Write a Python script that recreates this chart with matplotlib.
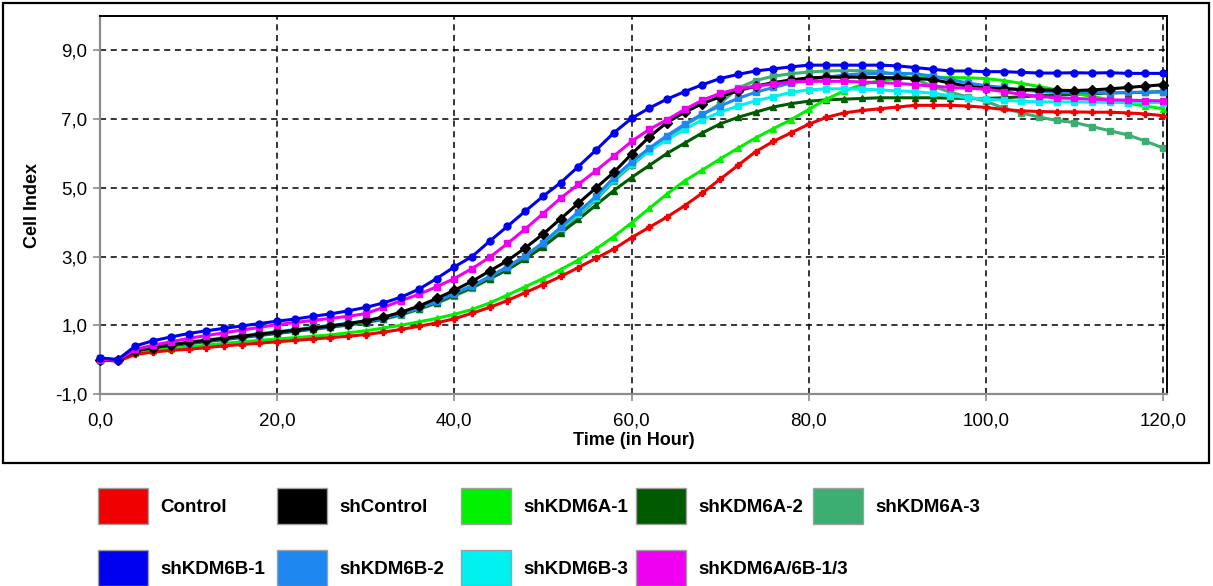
import matplotlib
matplotlib.use("Agg")
import matplotlib.pyplot as plt
from matplotlib.patches import Rectangle
from matplotlib.ticker import FuncFormatter

plt.rcParams['font.family'] = ['Liberation Sans', 'DejaVu Sans']

# ---------------- data ----------------
hours = list(range(0, 121, 2))

control = [0.00, -0.05, 0.15, 0.22, 0.27, 0.30, 0.35, 0.40, 0.44, 0.48, 0.52, 0.56, 0.60, 0.64, 0.68, 0.73,
           0.80, 0.88, 0.97, 1.07, 1.19, 1.35, 1.52, 1.72, 1.95, 2.18, 2.42, 2.68, 2.95, 3.22, 3.55, 3.85,
           4.15, 4.48, 4.85, 5.25, 5.65, 6.05, 6.35, 6.60, 6.85, 7.05, 7.18, 7.25, 7.30, 7.35, 7.40, 7.40,
           7.40, 7.38, 7.34, 7.28, 7.24, 7.22, 7.21, 7.21, 7.20, 7.20, 7.18, 7.15, 7.10]
sh_control = [0.00, -0.02, 0.25, 0.35, 0.43, 0.50, 0.56, 0.62, 0.68, 0.74, 0.80, 0.86, 0.92, 0.98, 1.05, 1.13,
              1.24, 1.38, 1.56, 1.78, 2.02, 2.28, 2.58, 2.88, 3.25, 3.65, 4.10, 4.55, 5.00, 5.45, 5.98, 6.48,
              6.90, 7.20, 7.45, 7.65, 7.82, 7.96, 8.06, 8.14, 8.20, 8.22, 8.22, 8.22, 8.21, 8.20, 8.18, 8.15,
              8.05, 7.95, 7.90, 7.88, 7.86, 7.85, 7.84, 7.83, 7.85, 7.88, 7.92, 7.96, 8.00]
kdm6a_1 = [0.00, 0.00, 0.18, 0.26, 0.32, 0.37, 0.42, 0.47, 0.52, 0.56, 0.60, 0.64, 0.68, 0.72, 0.78, 0.84,
           0.92, 1.00, 1.10, 1.20, 1.32, 1.46, 1.65, 1.88, 2.12, 2.36, 2.62, 2.90, 3.22, 3.58, 3.98, 4.40,
           4.82, 5.20, 5.52, 5.84, 6.15, 6.45, 6.72, 6.98, 7.28, 7.58, 7.82, 8.00, 8.12, 8.18, 8.20, 8.22,
           8.21, 8.20, 8.18, 8.12, 8.04, 7.95, 7.85, 7.75, 7.66, 7.56, 7.46, 7.38, 7.30]
kdm6a_2 = [0.00, -0.02, 0.24, 0.33, 0.41, 0.47, 0.53, 0.59, 0.65, 0.71, 0.77, 0.83, 0.89, 0.95, 1.02, 1.09,
           1.19, 1.32, 1.48, 1.66, 1.88, 2.10, 2.36, 2.62, 2.93, 3.28, 3.68, 4.08, 4.50, 4.92, 5.30, 5.65,
           6.00, 6.30, 6.60, 6.86, 7.05, 7.20, 7.35, 7.45, 7.52, 7.56, 7.58, 7.60, 7.62, 7.62, 7.62, 7.62,
           7.61, 7.60, 7.60, 7.62, 7.65, 7.68, 7.70, 7.72, 7.74, 7.76, 7.77, 7.78, 7.80]
kdm6a_3 = [0.00, -0.02, 0.22, 0.32, 0.40, 0.46, 0.52, 0.58, 0.64, 0.70, 0.76, 0.82, 0.88, 0.94, 1.00, 1.07,
           1.17, 1.30, 1.46, 1.64, 1.85, 2.08, 2.35, 2.62, 2.95, 3.32, 3.75, 4.20, 4.65, 5.20, 5.65, 6.08,
           6.45, 6.82, 7.12, 7.45, 7.90, 8.12, 8.25, 8.32, 8.37, 8.40, 8.41, 8.41, 8.38, 8.30, 8.16, 7.96,
           7.78, 7.64, 7.52, 7.32, 7.18, 7.06, 6.96, 6.90, 6.78, 6.66, 6.54, 6.36, 6.16]
kdm6b_1 = [0.05, 0.00, 0.40, 0.55, 0.66, 0.76, 0.84, 0.91, 0.98, 1.05, 1.12, 1.18, 1.26, 1.33, 1.42, 1.52,
           1.65, 1.82, 2.05, 2.36, 2.70, 3.00, 3.45, 3.88, 4.32, 4.75, 5.15, 5.62, 6.10, 6.60, 7.02, 7.32,
           7.58, 7.80, 8.00, 8.18, 8.30, 8.40, 8.46, 8.52, 8.57, 8.57, 8.57, 8.57, 8.57, 8.55, 8.50, 8.45,
           8.40, 8.40, 8.38, 8.38, 8.36, 8.34, 8.34, 8.35, 8.34, 8.35, 8.33, 8.33, 8.33]
kdm6b_2 = [0.05, 0.00, 0.27, 0.36, 0.43, 0.49, 0.55, 0.61, 0.67, 0.73, 0.79, 0.85, 0.91, 0.97, 1.04, 1.11,
           1.21, 1.34, 1.50, 1.70, 1.92, 2.15, 2.42, 2.70, 3.02, 3.40, 3.85, 4.30, 4.75, 5.30, 5.75, 6.15,
           6.52, 6.85, 7.15, 7.38, 7.60, 7.78, 7.92, 8.05, 8.15, 8.22, 8.28, 8.32, 8.33, 8.33, 8.32, 8.25,
           8.15, 8.05, 7.97, 7.92, 7.85, 7.80, 7.78, 7.77, 7.77, 7.77, 7.78, 7.78, 7.79]
kdm6b_3 = [0.00, -0.02, 0.28, 0.38, 0.45, 0.52, 0.58, 0.64, 0.70, 0.76, 0.82, 0.88, 0.94, 1.00, 1.06, 1.13,
           1.22, 1.35, 1.50, 1.70, 1.93, 2.15, 2.42, 2.70, 3.02, 3.40, 3.82, 4.25, 4.70, 5.25, 5.70, 6.08,
           6.40, 6.70, 6.98, 7.20, 7.38, 7.53, 7.65, 7.78, 7.85, 7.88, 7.88, 7.87, 7.85, 7.82, 7.80, 7.75,
           7.68, 7.62, 7.58, 7.55, 7.52, 7.50, 7.50, 7.50, 7.49, 7.49, 7.48, 7.48, 7.48]
kdm6ab = [0.00, -0.02, 0.30, 0.42, 0.52, 0.62, 0.70, 0.78, 0.86, 0.94, 1.02, 1.08, 1.14, 1.20, 1.26, 1.34,
          1.52, 1.72, 1.90, 2.12, 2.36, 2.65, 2.98, 3.38, 3.80, 4.25, 4.70, 5.10, 5.50, 5.92, 6.35, 6.70,
          6.98, 7.28, 7.55, 7.75, 7.88, 7.96, 8.02, 8.08, 8.10, 8.10, 8.10, 8.08, 8.06, 8.04, 8.00, 7.96,
          7.92, 7.90, 7.87, 7.80, 7.72, 7.66, 7.62, 7.60, 7.58, 7.56, 7.55, 7.54, 7.53]

labels = ["Control", "shControl", "shKDM6A-1", "shKDM6A-2", "shKDM6A-3",
          "shKDM6B-1", "shKDM6B-2", "shKDM6B-3", "shKDM6A/6B-1/3"]
series = [control, sh_control, kdm6a_1, kdm6a_2, kdm6a_3, kdm6b_1, kdm6b_2, kdm6b_3, kdm6ab]
colors = ["#F00000", "#000000", "#00F000", "#005A00", "#3CAE71",
          "#0000F0", "#1E88F0", "#00F0F0", "#F000F0"]
markers = ["P", "D", "^", "^", "s", "o", "s", "s", "s"]
zorders = [6, 7, 4, 3, 2, 9, 5, 4, 8]

xticks = [0, 20, 40, 60, 80, 100, 120]
yticks = [-1, 1, 3, 5, 7, 9]

# ---------------- figure ----------------
W, H = 1213, 586
fig = plt.figure(figsize=(W / 100, H / 100), dpi=100)
ax = fig.add_axes([100 / W, 1 - 394 / H, (1167 - 100) / W, (394 - 16) / H])

for ys, c, m, z, lab in zip(series, colors, markers, zorders, labels):
    ax.plot(hours, ys, color=c, lw=2.2, marker=m, ms=5, mec=c, mfc=c, zorder=z, label=lab,
            clip_on=False)

ax.set_xlim(0, 120.45)
ax.set_ylim(-1, 10)
ax.set_xticks(xticks)
ax.set_yticks(yticks)
fmt = FuncFormatter(lambda v, p: f"{v:.1f}".replace(".", ","))
ax.xaxis.set_major_formatter(fmt)
ax.yaxis.set_major_formatter(fmt)

for v in xticks[1:]:
    ax.axvline(v, color="black", lw=1.1, ls=(0, (4, 3)), zorder=1)
for v in yticks[1:]:
    ax.axhline(v, color="black", lw=1.1, ls=(0, (4, 3)), zorder=1)

for s in ["left", "bottom"]:
    ax.spines[s].set_color("#8c8c8c")
    ax.spines[s].set_linewidth(1.6)
for s in ["top", "right"]:
    ax.spines[s].set_color("black")
    ax.spines[s].set_linewidth(1.4)

ax.tick_params(axis="both", direction="out", length=5, width=1.2, color="#8c8c8c",
               labelsize=13.5)
ax.tick_params(axis="x", pad=8)
ax.tick_params(axis="y", pad=4)
ax.set_xlabel("Time (in Hour)", fontsize=13, fontweight="bold", labelpad=2)
ax.set_ylabel("Cell Index", fontsize=13, fontweight="bold", labelpad=10)

# outer frame
fig.patches.append(Rectangle((3 / W, 1 - 463 / H), (1209 - 3) / W, (463 - 3) / H,
                             transform=fig.transFigure, fill=False, ec="black", lw=1.6))

# legend (manual)
col_x = [98, 277, 461, 636, 813]
row_y = [488, 550]
sw_w, sw_h = 50, 36
for i, (lab, c) in enumerate(zip(labels, colors)):
    r, k = divmod(i, 5)
    x0 = col_x[k]
    y0 = row_y[r]
    fig.patches.append(Rectangle((x0 / W, 1 - (y0 + sw_h) / H), sw_w / W, sw_h / H,
                                 transform=fig.transFigure, fc=c, ec="#a0a0a0", lw=1.0))
    fig.text((x0 + sw_w + 12) / W, 1 - (y0 + 20) / H, lab, fontsize=13.5, fontweight="bold",
             va="center", ha="left")

fig.savefig("out.png", dpi=100)
